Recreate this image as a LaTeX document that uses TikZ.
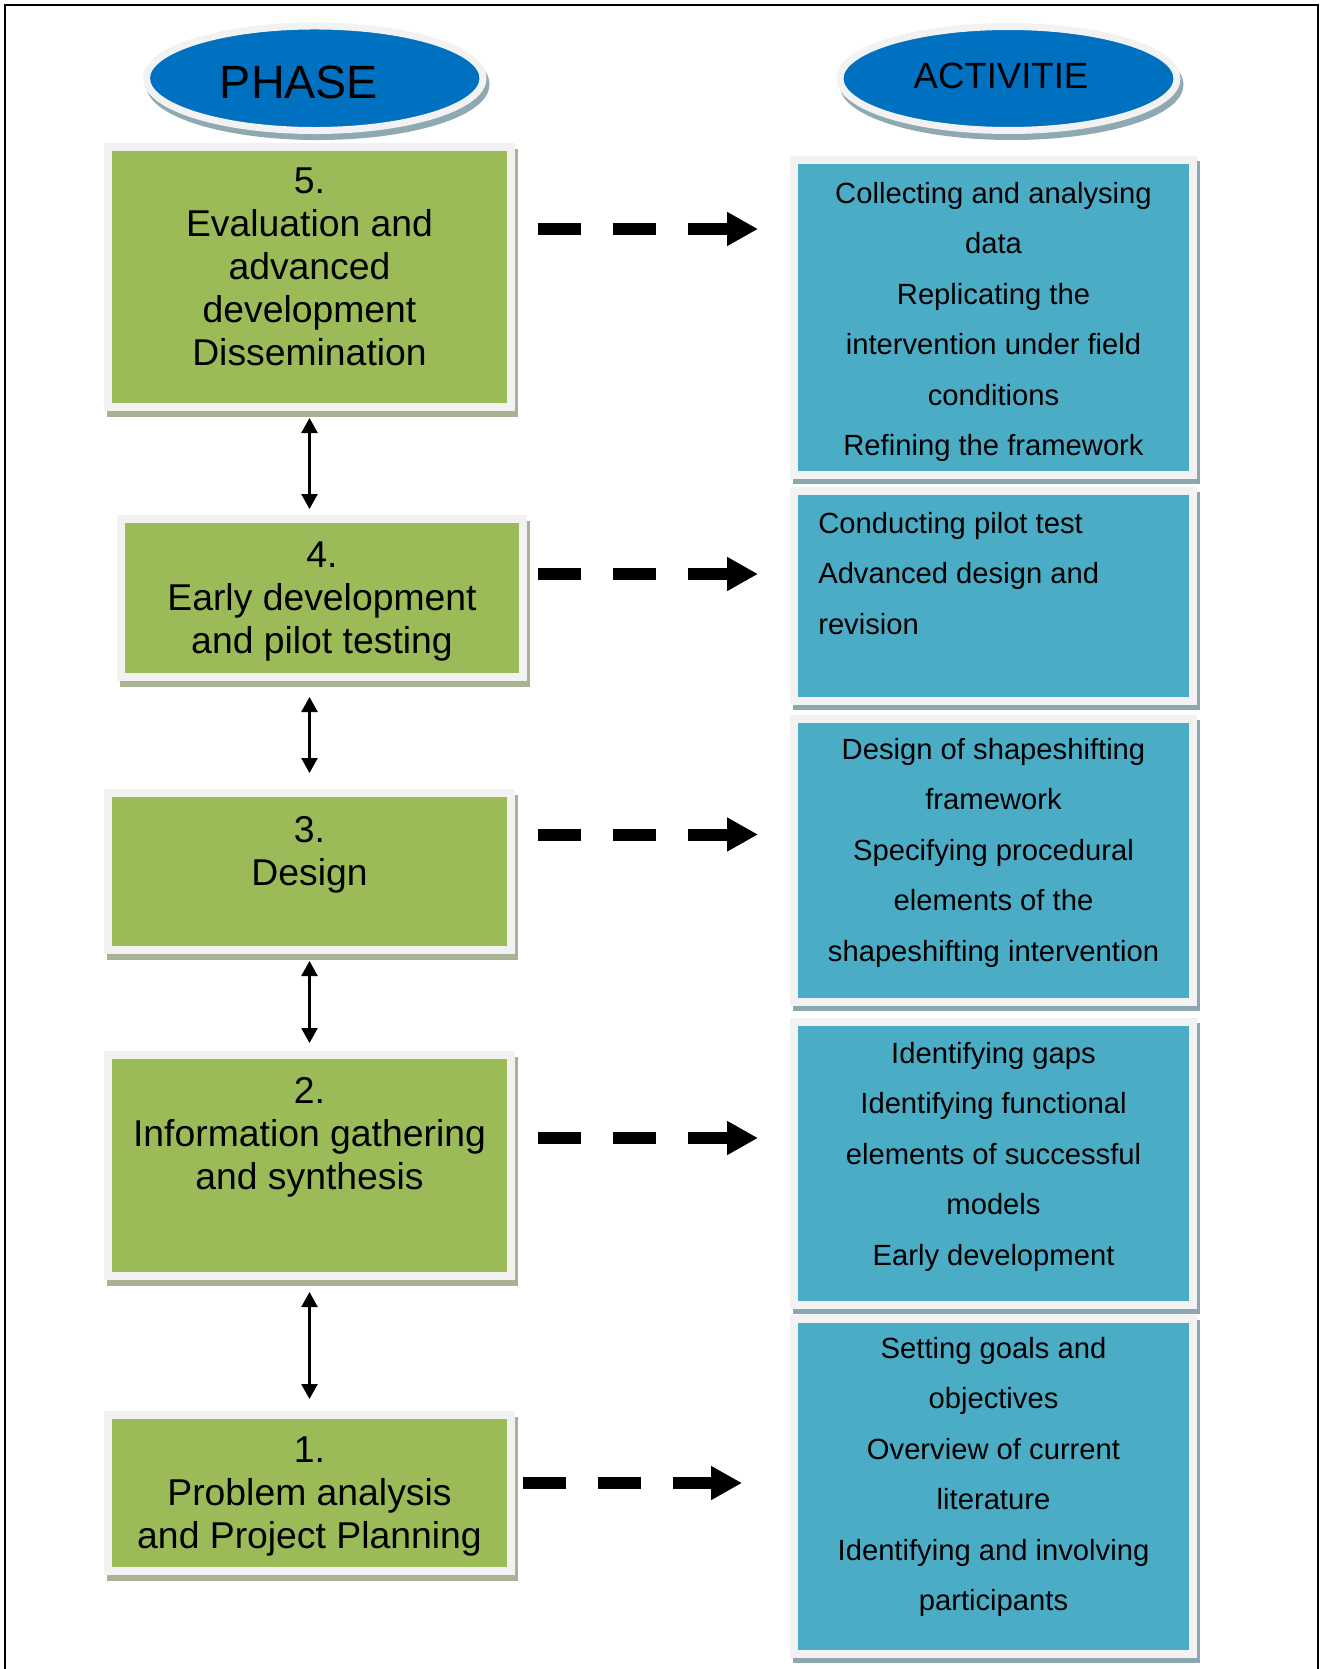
\documentclass[tikz,border=0pt]{standalone}
\usepackage{fontspec}
\setmainfont{Liberation Sans}
\usetikzlibrary{arrows.meta,shapes.geometric,fit}

\definecolor{phasegreen}{HTML}{9BBB59}
\definecolor{greenshade}{HTML}{A9B394}
\definecolor{actblue}{HTML}{4BACC6}
\definecolor{blueshade}{HTML}{8DA7B0}
\definecolor{rimgray}{HTML}{F2F2F2}
\definecolor{ovalblue}{HTML}{0070C0}
\definecolor{ovalshade}{HTML}{8FA9B3}

\newcommand{\topstrut}[1]{\rule{0pt}{#1}}

\begin{document}
\begin{tikzpicture}[x=0.75pt,y=-0.75pt,
  phasebox/.style={fill=phasegreen, draw=rimgray, line width=6pt,
    inner sep=3pt, outer sep=3pt,
    preaction={fill=greenshade, draw=greenshade, line width=6pt,
      transform canvas={xshift=1.9pt, yshift=-4.5pt}}},
  actbox/.style={fill=actblue, draw=rimgray, line width=6pt,
    inner sep=3pt, outer sep=3pt,
    preaction={fill=blueshade, draw=blueshade, line width=6pt,
      transform canvas={xshift=1.9pt, yshift=-3.75pt}}},
  oval/.style={ellipse, inner sep=0pt, fill=ovalblue, draw=rimgray,
    line width=5.25pt,
    preaction={fill=ovalshade, draw=ovalshade, line width=5.25pt,
      transform canvas={xshift=2.25pt, yshift=-4.5pt}}},
  phasetext/.style={font=\fontsize{28}{32.25}\selectfont, align=center,
    inner sep=0pt, anchor=north},
  acttext/.style={font=\fontsize{21.9}{37.9}\selectfont, align=center,
    inner sep=0pt, anchor=north},
  dasharrow/.style={line width=9pt, dash pattern=on 32.25pt off 24pt,
    -{Triangle[length=23.25pt,width=24pt]}},
  dblarrow/.style={line width=1.9pt,
    {Triangle[length=11.25pt,width=12pt]}-{Triangle[length=11.25pt,width=12pt]}}
]
\useasboundingbox (0,0) rectangle (1322,1669);

% outer frame, open at the bottom
\draw[line width=1.9pt] (5,1669) -- (5,5) -- (1318,5) -- (1318,1669);

% column headings
\node[oval, minimum width=252.4pt, minimum height=78.4pt] (phaseoval) at (314.75,78.25) {};
\node[font=\fontsize{35}{40}\selectfont, anchor=base, inner sep=0pt] (phaselabel) at (299,99) {PHASE};
\node[oval, minimum width=252.75pt, minimum height=78pt] (actoval) at (1008.5,78.5) {};
\node[font=\fontsize{27.4}{32}\selectfont, anchor=base, inner sep=0pt] (actlabel) at (1001,89) {ACTIVITIE};

% phase boxes
\node[phasebox, fit={(112,151) (507,403)}] (g5) {};
\node[phasebox, fit={(125,523) (519,673)}] (g4) {};
\node[phasebox, fit={(112,797) (507,946)}] (g3) {};
\node[phasebox, fit={(112,1059) (507,1272)}] (g2) {};
\node[phasebox, fit={(112,1419) (507,1567)}] (g1) {};

\node[phasetext] (t5) at (309.5,153) {\topstrut{30pt}5.\\Evaluation and\\advanced\\development\\Dissemination};
\node[phasetext] (t4) at (322,527) {\topstrut{30pt}4.\\Early development\\and pilot testing};
\node[phasetext] (t3) at (309.5,802) {\topstrut{30pt}3.\\Design};
\node[phasetext] (t2) at (309.5,1063) {\topstrut{30pt}2.\\Information gathering\\and synthesis};
\node[phasetext] (t1) at (309.5,1422) {\topstrut{30pt}1.\\Problem analysis\\and Project Planning};

% activity boxes
\node[actbox, fit={(798,164) (1189,471)}] (b5) {};
\node[actbox, fit={(798,495) (1189,697)}] (b4) {};
\node[actbox, fit={(798,723) (1189,998)}] (b3) {};
\node[actbox, fit={(798,1026) (1189,1301)}] (b2) {};
\node[actbox, fit={(798,1323) (1189,1650)}] (b1) {};

\node[acttext] (a5) at (993.5,171) {\topstrut{24pt}Collecting and analysing\\data\\Replicating the\\intervention under field\\conditions\\Refining the framework};
\node[acttext, align=left, anchor=north west] (a4) at (818,501) {\topstrut{24pt}Conducting pilot test\\Advanced design and\\revision};
\node[acttext] (a3) at (993.5,727) {\topstrut{24pt}Design of shapeshifting\\framework\\Specifying procedural\\elements of the\\shapeshifting intervention};
\node[acttext] (a2) at (993.5,1031) {\topstrut{24pt}Identifying gaps\\Identifying functional\\elements of successful\\models\\Early development};
\node[acttext] (a1) at (993.5,1326) {\topstrut{24pt}Setting goals and\\objectives\\Overview of current\\literature\\Identifying and involving\\participants};

% levels of the horizontal arrows
\coordinate (lv5) at (0,229);
\coordinate (lv4) at (0,574);
\coordinate (lv3) at (0,834.5);
\coordinate (lv2) at (0,1138);
\coordinate (lv1) at (0,1483);

% phase -> activity arrows
\draw[dasharrow, shorten <=17.25pt, shorten >=24pt] (g5.east |- lv5) -- (b5.west |- lv5);
\draw[dasharrow, shorten <=8.25pt, shorten >=24pt] (g4.east |- lv4) -- (b4.west |- lv4);
\draw[dasharrow, shorten <=17.25pt, shorten >=24pt] (g3.east |- lv3) -- (b3.west |- lv3);
\draw[dasharrow, shorten <=17.25pt, shorten >=24pt] (g2.east |- lv2) -- (b2.west |- lv2);
\draw[dasharrow, shorten <=6pt, shorten >=36pt] (g1.east |- lv1) -- (b1.west |- lv1);

% links between phases
\draw[dblarrow, shorten <=5.25pt, shorten >=4.5pt] (g5.south) -- (g5.south |- g4.north);
\draw[dblarrow, shorten <=12pt, shorten >=12pt] (g3.north |- g4.south) -- (g3.north);
\draw[dblarrow, shorten <=5.25pt, shorten >=6pt] (g3.south) -- (g2.north);
\draw[dblarrow, shorten <=9pt, shorten >=9pt] (g2.south) -- (g1.north);
\end{tikzpicture}
\end{document}
